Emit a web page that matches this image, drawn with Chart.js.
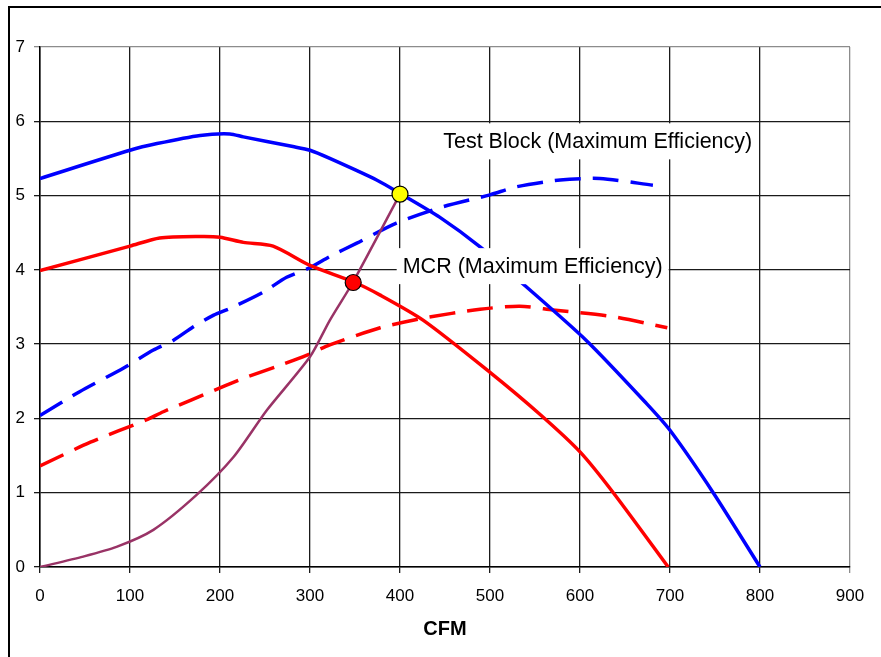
<!DOCTYPE html>
<html>
<head>
<meta charset="utf-8">
<script src="https://cdn.jsdelivr.net/npm/chart.js@4.4.1/dist/chart.umd.min.js"></script>
<style>
  html, body { margin: 0; padding: 0; background: #fff; }
  #wrap { width: 881px; height: 657px; position: relative; }
</style>
</head>
<body>
<div id="wrap"><canvas id="fanChart" width="881" height="657"></canvas></div>
<script>
// values: [CFM, value]
const testBlockCurve = [[0,5.23],[100,5.61],[130,5.7],[178,5.81],[211,5.83],[226,5.79],[281,5.66],[300,5.61],[322,5.5],[374,5.21],[400,5.03],[444,4.71],[489,4.31],[533,3.85],[607,3.05],[674,2.2],[700,1.84],[748,1.0],[800,0]];
const testBlockDashed = [[0,2.04],[44,2.36],[93,2.68],[126,2.92],[148,3.05],[170,3.23],[193,3.39],[211,3.48],[248,3.7],[274,3.9],[300,4.03],[322,4.18],[352,4.36],[396,4.63],[448,4.85],[500,5.01],[530,5.12],[578,5.21],[622,5.23],[681,5.14]];
const mcrCurve = [[0,3.99],[100,4.32],[133,4.43],[178,4.45],[200,4.44],[226,4.37],[259,4.32],[300,4.06],[348,3.84],[378,3.66],[426,3.32],[500,2.62],[556,2.05],[600,1.55],[637,1.0],[698,0]];
const mcrDashed = [[0,1.36],[56,1.68],[118,1.98],[137,2.09],[200,2.41],[226,2.54],[263,2.7],[296,2.85],[322,2.99],[378,3.22],[426,3.35],[489,3.47],[533,3.51],[570,3.46],[637,3.37],[697,3.22]];
const systemCurve = [[0,0],[48,0.14],[85,0.27],[126,0.5],[174,0.97],[215,1.48],[252,2.11],[300,2.83],[322,3.32],[348,3.84],[400,5.02]];
const testBlockPoint = [[400,5.02]];
const mcrPoint = [[348,3.83]];

const xTicks = [0, 100, 200, 300, 400, 500, 600, 700, 800, 900];
const yTicks = [0, 1, 2, 3, 4, 5, 6, 7];

const labelNotes = [
  { text: 'Test Block (Maximum Efficiency)', x: 448, y: 5.73 },
  { text: 'MCR (Maximum Efficiency)', x: 403, y: 4.05 }
];

const toXY = arr => arr.map(p => ({ x: p[0], y: p[1] }));

// outer frame, only the left and top edges show in the window
const framePlugin = {
  id: 'frame',
  beforeDraw(chart) {
    const ctx = chart.ctx;
    ctx.save();
    ctx.strokeStyle = '#000';
    ctx.lineWidth = 2;
    ctx.beginPath();
    ctx.moveTo(9, 700);
    ctx.lineTo(9, 7);
    ctx.lineTo(900, 7);
    ctx.stroke();
    ctx.restore();
  }
};

// text boxes on white background
const notesPlugin = {
  id: 'notes',
  afterDatasetsDraw(chart) {
    const ctx = chart.ctx;
    const xs = chart.scales.x, ys = chart.scales.y;
    ctx.save();
    ctx.font = '21.5px "Liberation Sans", Arial, sans-serif';
    ctx.textBaseline = 'middle';
    labelNotes.forEach(n => {
      const px = xs.getPixelForValue(n.x);
      const py = ys.getPixelForValue(n.y);
      const w = ctx.measureText(n.text).width;
      ctx.fillStyle = '#fff';
      ctx.fillRect(px - 6, py - 18, w + 12, 36);
      ctx.fillStyle = '#000';
      ctx.fillText(n.text, px, py + 1);
    });
    ctx.restore();
  }
};

const gridColor = (ctx, last) => (ctx.tick && ctx.tick.value === last) ? '#8c8c8c' : '#1a1a1a';

const chart = new Chart(document.getElementById('fanChart').getContext('2d'), {
  type: 'line',
  data: {
    datasets: [
      {
        data: toXY(testBlockPoint), showLine: false,
        pointRadius: 8, pointBackgroundColor: '#ffff00', pointBorderColor: '#000', pointBorderWidth: 1.2
      },
      {
        data: toXY(mcrPoint), showLine: false,
        pointRadius: 8, pointBackgroundColor: '#ff0000', pointBorderColor: '#000', pointBorderWidth: 1.2
      },
      { data: toXY(systemCurve), borderColor: '#993366', borderWidth: 2.5, pointRadius: 0 },
      { data: toXY(testBlockCurve), borderColor: '#0000ff', borderWidth: 3.5, pointRadius: 0 },
      { data: toXY(mcrCurve), borderColor: '#ff0000', borderWidth: 3.5, pointRadius: 0 },
      { data: toXY(testBlockDashed), borderColor: '#0000ff', borderWidth: 3.5, pointRadius: 0, borderDash: [26, 12] },
      { data: toXY(mcrDashed), borderColor: '#ff0000', borderWidth: 3.5, pointRadius: 0, borderDash: [26, 12] }
    ]
  },
  options: {
    responsive: false,
    animation: false,
    tension: 0.25,
    layout: { padding: { left: 0, top: 47, right: 31, bottom: 0 } },
    plugins: {
      legend: { display: false },
      tooltip: { enabled: false }
    },
    scales: {
      x: {
        type: 'linear', min: 0, max: 900,
        afterBuildTicks: s => { s.ticks = xTicks.map(v => ({ value: v })); },
        afterFit: s => { s.height = 90; },
        border: { color: '#000', width: 1.5 },
        grid: { color: c => gridColor(c, 900), lineWidth: 1.3, tickLength: 6 },
        ticks: { color: '#000', padding: 13, font: { family: '"Liberation Sans", Arial', size: 17 } },
        title: {
          display: true, text: 'CFM', color: '#000',
          font: { family: '"Liberation Sans", Arial', size: 20, weight: 'bold' },
          padding: { top: 0, bottom: 16 }
        }
      },
      y: {
        type: 'linear', min: 0, max: 7,
        afterBuildTicks: s => { s.ticks = yTicks.map(v => ({ value: v })); },
        afterFit: s => { s.width = 40; },
        border: { color: '#000', width: 1.5 },
        grid: { color: c => gridColor(c, 7), lineWidth: 1.3, tickLength: 6 },
        ticks: { color: '#000', padding: 9, font: { family: '"Liberation Sans", Arial', size: 17 } }
      }
    }
  },
  plugins: [framePlugin, notesPlugin]
});
</script>
</body>
</html>
